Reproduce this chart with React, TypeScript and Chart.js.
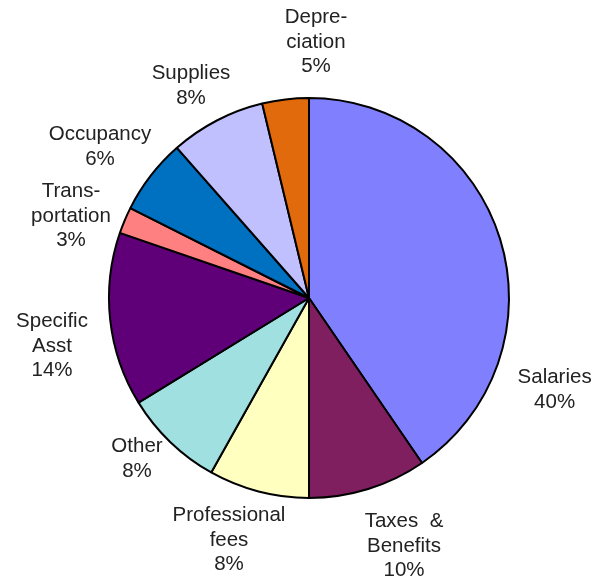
import React, { useEffect, useRef } from "react";
import { Chart, registerables } from "chart.js";

Chart.register(...registerables);

// Categories (label lines as shown in the chart)
const CATEGORIES: string[][] = [
  ["Salaries"],
  ["Taxes  &", "Benefits"],
  ["Professional", "fees"],
  ["Other"],
  ["Specific", "Asst"],
  ["Trans-", "portation"],
  ["Occupancy"],
  ["Supplies"],
  ["Depre-", "ciation"],
];

// Slice shares
const VALUES: number[] = [40.44, 9.56, 8.13, 8.11, 14.04, 2.14, 6.1, 7.72, 3.76];

// Percent labels as printed
const PCT_LABELS: string[] = ["40%", "10%", "8%", "8%", "14%", "3%", "6%", "8%", "5%"];

const COLORS: string[] = [
  "#8080FF",
  "#7F1F5F",
  "#FFFFC0",
  "#A0E0E0",
  "#5F0078",
  "#FF8080",
  "#0070C0",
  "#C0C0FF",
  "#E06A0C",
];

// Label block centres relative to the pie centre, in units of the radius
const LABEL_OFFSETS: [number, number][] = [
  [1.228, 0.46],
  [0.475, 1.24],
  [-0.4, 1.21],
  [-0.86, 0.805],
  [-1.285, 0.24],
  [-1.19, -0.41],
  [-1.045, -0.755],
  [-0.59, -1.06],
  [0.035, -1.28],
];

const labelPlugin = {
  id: "outsideLabels",
  afterDraw(chart: any) {
    const meta = chart.getDatasetMeta(0);
    const ctx = chart.ctx;
    const lineH = 24.5;
    ctx.save();
    ctx.font = '20.5px "Liberation Sans", Arial, sans-serif';
    ctx.fillStyle = "#222222";
    ctx.textAlign = "center";
    ctx.textBaseline = "middle";
    meta.data.forEach((arc: any, i: number) => {
      const lines = [...CATEGORIES[i], PCT_LABELS[i]];
      const r = arc.outerRadius;
      const cx = arc.x + LABEL_OFFSETS[i][0] * r;
      const cy = arc.y + LABEL_OFFSETS[i][1] * r;
      const top = cy - ((lines.length - 1) * lineH) / 2;
      lines.forEach((t, j) => ctx.fillText(t, cx, top + j * lineH));
    });
    ctx.restore();
  },
};

export default function App() {
  const ref = useRef<HTMLCanvasElement | null>(null);
  useEffect(() => {
    if (!ref.current) return;
    const chart = new Chart(ref.current, {
      type: "pie",
      data: {
        labels: CATEGORIES.map((l) => l.join(" ")),
        datasets: [
          {
            data: VALUES,
            backgroundColor: COLORS,
            borderColor: "#000000",
            borderWidth: 2,
          },
        ],
      },
      options: {
        responsive: false,
        animation: false,
        devicePixelRatio: 1,
        layout: { padding: { left: 108, top: 97, right: 92, bottom: 80 } },
        plugins: {
          legend: { display: false },
          tooltip: { enabled: false },
        },
      },
      plugins: [labelPlugin],
    });
    return () => chart.destroy();
  }, []);
  return (
    <div style={{ position: "absolute", left: 0, top: 0, width: 602, height: 579, background: "#fff" }}>
      <canvas ref={ref} width={602} height={579} />
    </div>
  );
}
